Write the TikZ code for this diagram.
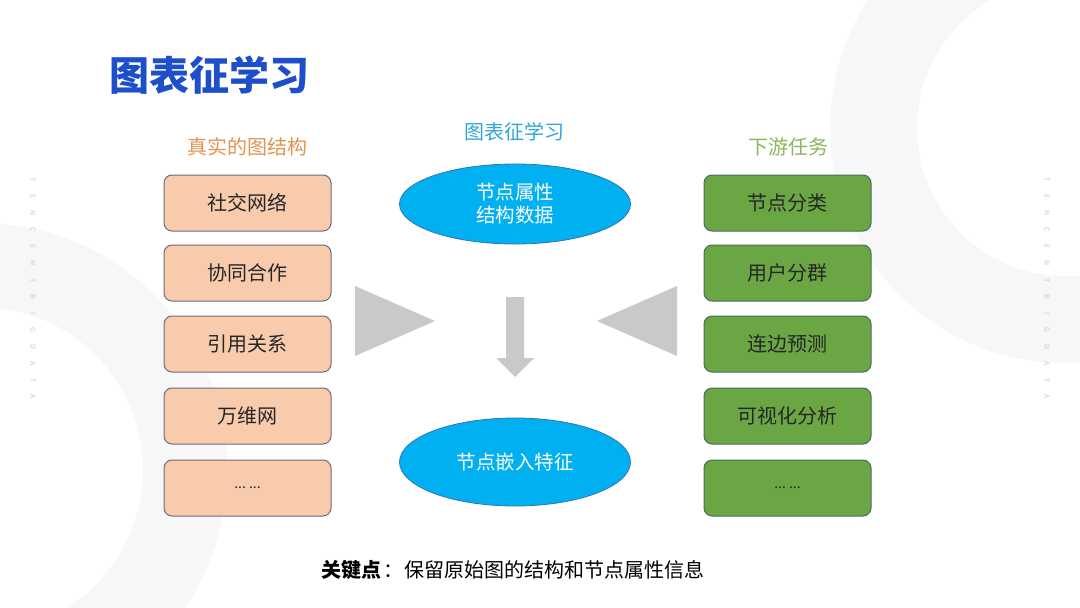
\documentclass[tikz,border=0pt]{standalone}
\usepackage{fontspec}
\setmainfont{Noto Sans CJK SC}
\setsansfont{Noto Sans CJK SC}
\usetikzlibrary{shapes.geometric}
\definecolor{titleblue}{HTML}{1C4FC9}
\definecolor{headorange}{HTML}{E39450}
\definecolor{headteal}{HTML}{2FA6D8}
\definecolor{headgreen}{HTML}{8DB560}
\definecolor{peach}{HTML}{F8CBAD}
\definecolor{peachline}{HTML}{6E6A78}
\definecolor{leaf}{HTML}{6AA744}
\definecolor{leafline}{HTML}{4E6A60}
\definecolor{sky}{HTML}{00B0F0}
\definecolor{skyline}{HTML}{2E75B6}
\definecolor{arrowgrey}{HTML}{C9C9C9}
\definecolor{ringgrey}{HTML}{F7F7F9}
\definecolor{wmgrey}{HTML}{C8C8CC}
\tikzset{
  lbox/.style={draw=peachline, line width=1pt, fill=peach, rounded corners=8pt,
    minimum width=167pt, minimum height=56pt, inner sep=0pt,
    font=\fontsize{20}{24}\selectfont, text=black!85},
  rbox/.style={draw=leafline, line width=1pt, fill=leaf, rounded corners=8pt,
    minimum width=167pt, minimum height=56pt, inner sep=0pt,
    font=\fontsize{20}{24}\selectfont, text=black!85},
  blob/.style={ellipse, draw=skyline, line width=0.8pt, fill=sky,
    minimum width=231pt, inner sep=0pt, text=white,
    font=\fontsize{19.5}{23}\selectfont, align=center},
  headtxt/.style={font=\fontsize{20}{24}\selectfont, inner sep=0pt},
  wmtxt/.style={font=\fontsize{7}{8}\selectfont, text=wmgrey, inner sep=0pt, rotate=-90},
  greyshape/.style={fill=arrowgrey, draw=none}
}
\begin{document}
\begin{tikzpicture}[x=1pt, y=-1pt]
\useasboundingbox (0,0) rectangle (1080,608);
\fill[white] (0,0) rectangle (1080,608);
\begin{scope}
  \clip (0,0) rectangle (1080,608);
  \fill[ringgrey, even odd rule] (1065,128) circle[radius=235] (1065,128) circle[radius=148];
  \fill[ringgrey, even odd rule] (-20,470) circle[radius=247] (-20,470) circle[radius=163];
\end{scope}
% watermark
\foreach \ch [count=\i] in {T,E,N,C,E,N,T,B,I,G,D,A,T,A} {
  \node[wmtxt] (wl\i) at (33, {180+(\i-1)*16.7}) {\ch};
  \node[wmtxt] (wr\i) at (1047, {180+(\i-1)*16.7}) {\ch};
}
% title
\node[anchor=west, inner sep=0pt, text=titleblue, font=\fontsize{40}{48}\selectfont\bfseries] (title) at (109,75) {图表征学习};
% headings
\node[headtxt, text=headorange] (hl) at (247,147) {真实的图结构};
\node[headtxt, text=headteal] (hc) at (514,132) {图表征学习};
\node[headtxt, text=headgreen] (hr) at (788,147) {下游任务};
% left boxes
\node[lbox] (l1) at (247.5,203) {社交网络};
\node[lbox] (l2) at (247.5,273) {协同合作};
\node[lbox] (l3) at (247.5,344) {引用关系};
\node[lbox] (l4) at (247.5,416) {万维网};
\node[lbox] (l5) at (247.5,488) {\fontsize{14}{16}\selectfont ...\ ...};
% right boxes
\node[rbox] (r1) at (787.5,203) {节点分类};
\node[rbox] (r2) at (787.5,273) {用户分群};
\node[rbox] (r3) at (787.5,344) {连边预测};
\node[rbox] (r4) at (787.5,416) {可视化分析};
\node[rbox] (r5) at (787.5,488) {\fontsize{14}{16}\selectfont ...\ ...};
% ellipses
\node[blob, minimum height=80pt] (e1) at (515,204) {节点属性\\[0pt]结构数据};
\node[blob, minimum height=88pt] (e2) at (515,462) {节点嵌入特征};
% arrows
\fill[greyshape] (355,286) -- (355,356) -- (435,321) -- cycle;
\fill[greyshape] (677,286) -- (677,356) -- (597,321) -- cycle;
\fill[greyshape] (506,297) -- (524,297) -- (524,358) -- (534,358) -- (515,377) -- (496,358) -- (506,358) -- cycle;
% key point
\node[anchor=west, inner sep=0pt, font=\fontsize{20}{24}\selectfont, text=black] (key) at (321,570) {\textbf{关键点}\hspace{2pt}：\hspace{1pt}保留原始图的结构和节点属性信息};
\end{tikzpicture}
\end{document}
